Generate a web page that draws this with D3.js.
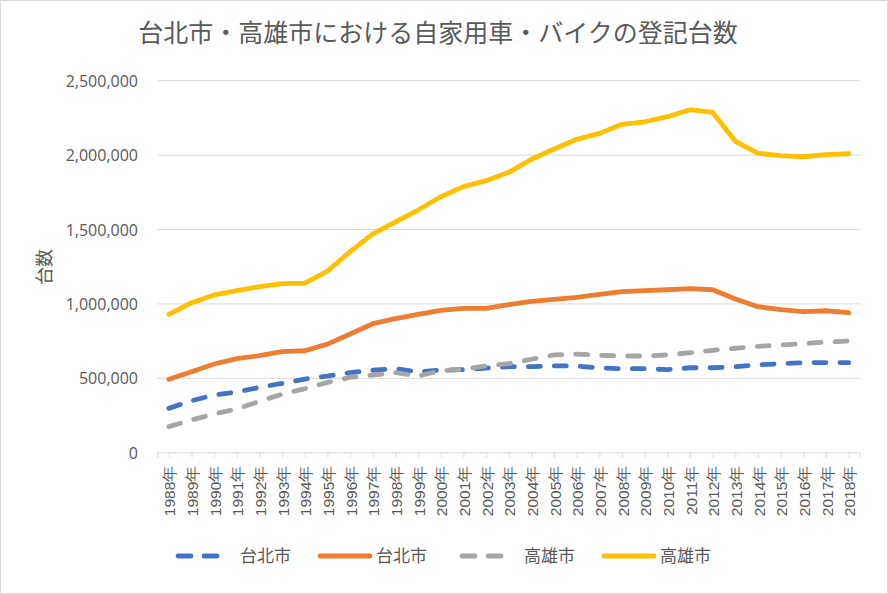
<!DOCTYPE html>
<html><head><meta charset="utf-8">
<script src="https://cdn.jsdelivr.net/npm/d3@7"></script>
<style>
body{margin:0;background:#fff;}
svg{display:block;font-family:"Open Sans","Noto Sans CJK JP",sans-serif;}
</style></head>
<body><svg id="c" width="888" height="594"></svg>
<script>
const years = ["1988年","1989年","1990年","1991年","1992年","1993年","1994年","1995年","1996年","1997年","1998年","1999年","2000年","2001年","2002年","2003年","2004年","2005年","2006年","2007年","2008年","2009年","2010年","2011年","2012年","2013年","2014年","2015年","2016年","2017年","2018年"];
const taipeiBike = [298000,349000,388000,408000,439000,466000,495000,515000,538000,554000,565000,542000,556000,558000,569000,578000,578000,583000,583000,569000,565000,565000,558000,571000,571000,578000,591000,598000,605000,605000,605000];
const taipeiCar = [493000,544000,596000,632000,652000,679000,685000,730000,798000,867000,901000,930000,957000,970000,970000,995000,1017000,1031000,1044000,1064000,1082000,1089000,1095000,1102000,1095000,1033000,981000,961000,948000,954000,941000];
const kaohsiungBike = [175000,220000,260000,294000,345000,394000,430000,473000,507000,522000,538000,515000,551000,560000,583000,598000,628000,657000,663000,654000,650000,650000,657000,672000,688000,702000,715000,724000,733000,744000,751000];
const kaohsiungCar = [930000,1008000,1060000,1089000,1116000,1136000,1140000,1221000,1351000,1470000,1552000,1631000,1720000,1788000,1828000,1884000,1972000,2041000,2106000,2146000,2207000,2224000,2258000,2305000,2287000,2093000,2012000,1996000,1989000,2003000,2009000];
const yTicks = [0,500000,1000000,1500000,2000000,2500000];
const seriesNames = ["台北市","台北市","高雄市","高雄市"];
const title = "台北市・高雄市における自家用車・バイクの登記台数";
const yTitle = "台数";

const series = [
  {name:seriesNames[0], values:taipeiBike, color:"#4472C4", dash:"12 14"},
  {name:seriesNames[1], values:taipeiCar, color:"#ED7D31", dash:null},
  {name:seriesNames[2], values:kaohsiungBike, color:"#A5A5A5", dash:"12 14"},
  {name:seriesNames[3], values:kaohsiungCar, color:"#FFC000", dash:null}
];

const svg = d3.select("#c");
svg.append("rect").attr("x",0.5).attr("y",0.5).attr("width",887).attr("height",593)
  .attr("fill","#fff").attr("stroke","#D9D9D9");

const L=157.5, R=860, T=80.7, B=452.7;
const x = d3.scalePoint().domain(years).range([L,R]).padding(0.5);
const y = d3.scaleLinear().domain([0,2500000]).range([B,T]);

// title
svg.append("text").attr("x",438).attr("y",42).attr("text-anchor","middle")
  .attr("font-size",25).attr("fill","#595959").attr("font-family","Noto Sans CJK JP").text(title);

// gridlines
svg.append("g").selectAll("line").data(yTicks.slice(1)).join("line")
  .attr("x1",L).attr("x2",R).attr("y1",d=>y(d)).attr("y2",d=>y(d))
  .attr("stroke","#D9D9D9").attr("stroke-width",1);

// y axis labels
const yAxis = d3.axisLeft(y).tickValues(yTicks).tickFormat(d3.format(",")).tickSize(0).tickPadding(0);
const gy = svg.append("g").attr("transform",`translate(138,0)`).call(yAxis);
gy.select(".domain").remove();
gy.selectAll("text").attr("font-size",16).attr("fill","#595959").attr("font-family","Open Sans").attr("dy","0.35em");

// y title
svg.append("text").attr("transform","translate(51,267) rotate(-90)").attr("text-anchor","middle")
  .attr("font-size",18).attr("fill","#595959").attr("font-family","Noto Sans CJK JP").text(yTitle);

// x axis
const xAxis = d3.axisBottom(x).tickSize(5).tickPadding(0);
const gx = svg.append("g").attr("transform",`translate(0,${B})`).call(xAxis);
gx.select(".domain").attr("stroke","#D9D9D9").attr("d",`M${L},0H${R}`);
gx.selectAll(".tick line").attr("stroke","#D9D9D9");
gx.selectAll("text").attr("font-size",15.5).attr("fill","#595959")
  .attr("text-anchor","end").attr("dy",null).attr("y",0)
  .attr("transform","translate(6,13) rotate(-90)");
gx.append("line").attr("x1",L).attr("x2",L).attr("y1",0).attr("y2",5).attr("stroke","#D9D9D9");
gx.append("line").attr("x1",R).attr("x2",R).attr("y1",0).attr("y2",5).attr("stroke","#D9D9D9");

// lines
const line = d3.line().x((d,i)=>x(years[i])).y(d=>y(d));
svg.append("g").selectAll("path").data(series).join("path")
  .attr("d",d=>line(d.values)).attr("fill","none")
  .attr("stroke",d=>d.color).attr("stroke-width",4.8)
  .attr("stroke-linejoin","round").attr("stroke-linecap","round")
  .attr("stroke-dasharray",d=>d.dash);

// legend
const legX = [178, 320, 462, 604];
const lg = svg.append("g").selectAll("g").data(series).join("g")
  .attr("transform",(d,i)=>`translate(${legX[i]},556)`);
lg.append("line").attr("x1",0).attr("x2",d=>d.dash?40:50).attr("y1",0).attr("y2",0)
  .attr("stroke",d=>d.color).attr("stroke-width",4.8).attr("stroke-linecap","round")
  .attr("stroke-dasharray",d=>d.dash?"13 13":null);
lg.append("text").attr("x",d=>d.dash?62:56).attr("y",0).attr("dy","0.35em")
  .attr("font-size",17).attr("fill","#595959").attr("font-family","Noto Sans CJK JP").text(d=>d.name);
</script></body></html>
